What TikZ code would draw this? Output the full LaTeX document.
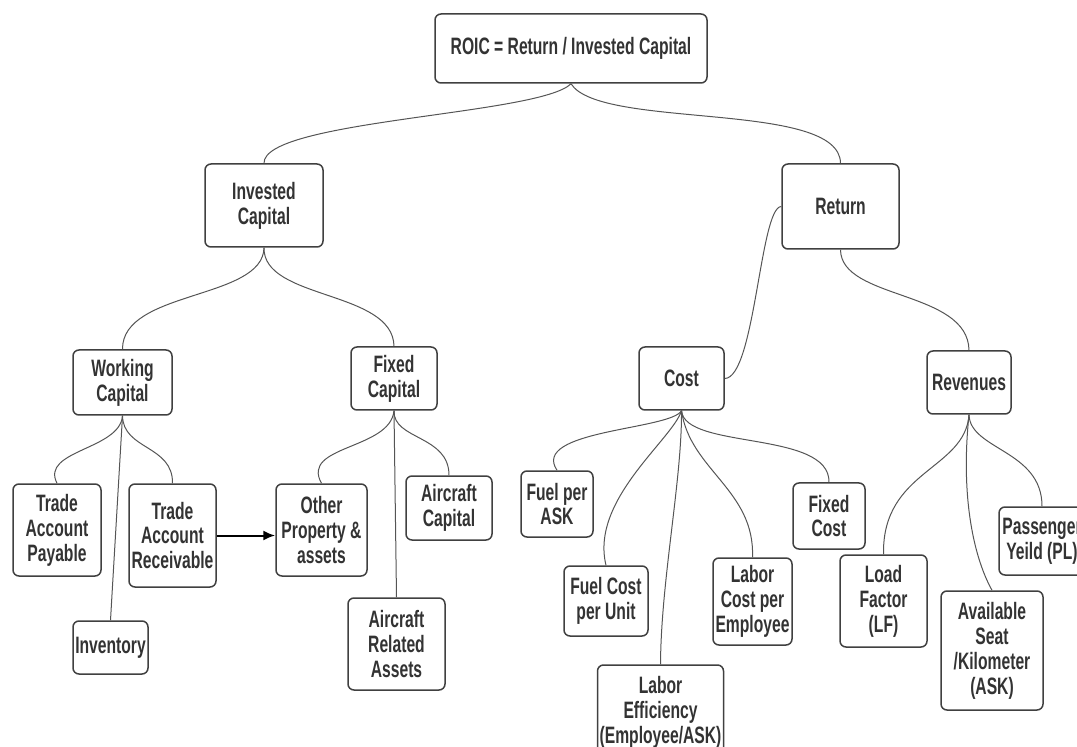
\documentclass[tikz,border=0pt]{standalone}
\usepackage{fontspec}
\setmainfont{Liberation Sans}[FakeStretch=0.66]
\usetikzlibrary{arrows.meta}
\definecolor{r51g51b51}{rgb}{0.200000,0.200000,0.200000}
\definecolor{r64g64b64}{rgb}{0.250000,0.250000,0.250000}
\definecolor{r85g85b85}{rgb}{0.333333,0.333333,0.333333}
\tikzset{
  box/.style={draw=r64g64b64, line width=0.03cm, rounded corners=0.12cm, fill=white,
    inner sep=0pt, align=center, text=r51g51b51,
    font=\fontsize{13.5}{14.2}\selectfont\bfseries},
  link/.style={draw=r85g85b85, line width=0.02cm},
  flow/.style={draw=black, line width=0.04cm, -{Latex[length=0.24cm,width=0.2cm]}}
}
\begin{document}
\begin{tikzpicture}
% \clip (0,0) rectangle (21.540000,14.920000);
\useasboundingbox (0,0) rectangle (21.540000,14.920000);
\clip (0,0) rectangle (21.540000,14.920000);

% Drawing box ROIC
\node[box, minimum width=5.44cm, minimum height=1.38cm] (roic) at (11.420000,13.950000) {ROIC = Return / Invested Capital};

% Drawing boxes of second level
\node[box, minimum width=2.36cm, minimum height=1.66cm] (invcap) at (5.280000,10.810000) {Invested\\Capital};
\node[box, minimum width=2.34cm, minimum height=1.70cm] (ret) at (16.810000,10.790000) {Return};

% Drawing boxes of third level
\node[box, minimum width=1.98cm, minimum height=1.30cm] (wcap) at (2.450000,7.270000) {Working\\Capital};
\node[box, minimum width=1.72cm, minimum height=1.26cm] (fcap) at (7.880000,7.350000) {Fixed\\Capital};
\node[box, minimum width=1.70cm, minimum height=1.26cm] (cost) at (13.630000,7.350000) {Cost};
\node[box, minimum width=1.68cm, minimum height=1.26cm] (rev) at (19.380000,7.270000) {Revenues};

% Drawing boxes under Working Capital
\node[box, minimum width=1.76cm, minimum height=1.84cm] (tap) at (1.140000,4.320000) {Trade\\Account\\Payable};
\node[box, minimum width=1.74cm, minimum height=2.06cm] (tar) at (3.450000,4.210000) {Trade\\Account\\Receivable};
\node[box, minimum width=1.50cm, minimum height=1.06cm] (invt) at (2.210000,1.970000) {Inventory};

% Drawing boxes under Fixed Capital
\node[box, minimum width=1.82cm, minimum height=1.84cm] (opa) at (6.430000,4.320000) {Other\\Property \&\\assets};
\node[box, minimum width=1.72cm, minimum height=1.28cm] (acap) at (8.980000,4.760000) {Aircraft\\Capital};
\node[box, minimum width=1.94cm, minimum height=1.84cm] (ara) at (7.930000,2.040000) {Aircraft\\Related\\Assets};

% Drawing boxes under Cost
\node[box, minimum width=1.44cm, minimum height=1.32cm] (fpa) at (11.140000,4.840000) {Fuel per\\ASK};
\node[box, minimum width=1.68cm, minimum height=1.40cm] (fcu) at (12.120000,2.900000) {Fuel Cost\\per Unit};
\node[box, minimum width=2.52cm, minimum height=1.88cm] (lef) at (13.210000,0.680000) {Labor\\Efficiency\\(Employee/ASK)};
\node[box, minimum width=1.58cm, minimum height=1.74cm] (lcpe) at (15.050000,2.890000) {Labor\\Cost per\\Employee};
\node[box, minimum width=1.44cm, minimum height=1.32cm] (fxc) at (16.580000,4.600000) {Fixed\\Cost};

% Drawing boxes under Revenues
\node[box, minimum width=1.74cm, minimum height=1.84cm] (lf) at (17.670000,2.900000) {Load\\Factor\\(LF)};
\node[box, minimum width=2.04cm, minimum height=2.38cm] (ask) at (19.840000,1.910000) {Available\\Seat\\/Kilometer\\(ASK)};
\node[box, minimum width=1.72cm, minimum height=1.36cm] (pl) at (20.840000,4.100000) {Passenger\\Yeild (PL)};

% Drawing links from ROIC
\draw[link] (roic.south) .. controls (10.800000,12.620000) and (5.260000,12.520000) .. (invcap.north);
\draw[link] (roic.south) .. controls (12.000000,12.320000) and (16.800000,12.920000) .. (ret.north);

% Drawing links from Invested Capital
\draw[link] (invcap.south) .. controls (5.260000,8.920000) and (2.440000,9.120000) .. (wcap.north);
\draw[link] (invcap.south) .. controls (5.260000,8.920000) and (7.860000,9.120000) .. (fcap.north);

% Drawing links from Return
\draw[link] (ret.west) .. controls (15.200000,10.780000) and (15.100000,7.360000) .. (cost.east);
\draw[link] (ret.south) .. controls (16.820000,8.920000) and (19.360000,9.120000) .. (rev.north);

% Drawing links from Working Capital
\draw[link] (wcap.south) .. controls (2.400000,5.920000) and (0.800000,5.920000) .. (tap.north);
\draw[link] (wcap.south) -- (invt.north);
\draw[link] (wcap.south) .. controls (2.460000,5.920000) and (3.460000,6.020000) .. (tar.north);

% Drawing links from Fixed Capital
\draw[link] (fcap.south) .. controls (7.800000,5.920000) and (6.000000,6.020000) .. (opa.north);
\draw[link] (fcap.south) -- (ara.north);
\draw[link] (fcap.south) .. controls (7.860000,6.120000) and (8.980000,6.220000) .. (acap.north);

% Drawing links from Cost
\draw[link] (cost.south) .. controls (13.400000,6.320000) and (10.600000,6.320000) .. (fpa.north);
\draw[link] (cost.south) .. controls (13.440000,6.120000) and (11.800000,4.920000) .. (fcu.north);
\draw[link] (cost.south) .. controls (13.640000,5.320000) and (13.220000,3.320000) .. (lef.north);
\draw[link] (cost.south) .. controls (13.800000,5.520000) and (15.100000,5.120000) .. (lcpe.north);
\draw[link] (cost.south) .. controls (13.700000,5.920000) and (16.600000,6.320000) .. (fxc.north);

% Drawing links from Revenues
\draw[link] (rev.south) .. controls (19.300000,5.520000) and (17.640000,5.520000) .. (lf.north);
\draw[link] (rev.south) .. controls (19.200000,4.920000) and (19.500000,3.720000) .. (ask.north);
\draw[link] (rev.south) .. controls (19.400000,5.920000) and (20.840000,5.920000) .. (pl.north);

% Drawing arrow Receivable to Other Property
\draw[flow] (tar.east) -- (tar.east -| opa.west);
\end{tikzpicture}
\end{document}
